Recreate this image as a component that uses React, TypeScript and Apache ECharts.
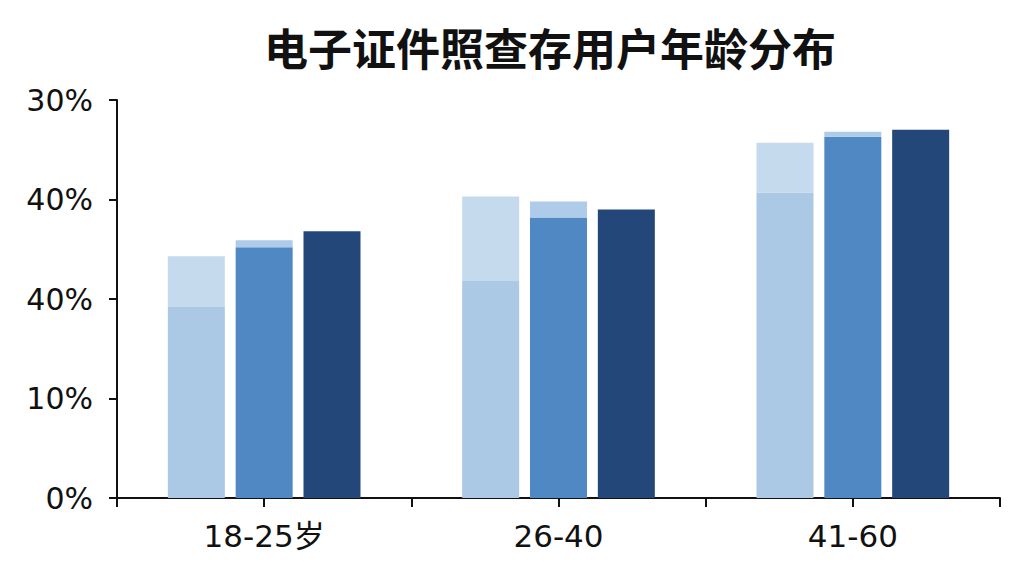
import * as echarts from "echarts"
import { useEffect, useRef } from "react"

const title = "电子证件照查存用户年龄分布"
const categories = ["18-25岁", "26-40", "41-60"]
// y tick labels as printed on the original (0, 10, 20, 30, 40 positions)
const yTickLabels = ["0%", "10%", "40%", "40%", "30%"]

// first bar in each group: lower part + paler upper part
const lightLower = [19.2, 21.8, 30.7]
const lightUpper = [5.1, 8.5, 5.0]
// second bar: main part + thin light cap
const midMain = [25.2, 28.2, 36.3]
const midCap = [0.7, 1.6, 0.5]
// third bar
const dark = [26.8, 29.0, 37.0]

const FONT = "'DejaVu Sans', 'Noto Sans CJK SC', sans-serif"
const INK = "#111111"

export default function App() {
  const ref = useRef<HTMLDivElement>(null)

  useEffect(() => {
    if (!ref.current) return
    const chart = echarts.init(ref.current, null, { renderer: "svg" })

    const bar = (name: string, data: number[], stack: string, color: string) => ({
      name,
      type: "bar",
      stack,
      data,
      barWidth: 57,
      barGap: "19%",
      itemStyle: { color },
    })

    chart.setOption({
      animation: false,
      backgroundColor: "#ffffff",
      title: {
        text: title,
        left: 545,
        top: 20,
        textAlign: "center",
        textStyle: { fontFamily: "'Noto Sans CJK SC', sans-serif", fontSize: 44, fontWeight: "bold", color: INK },
      },
      grid: { left: 117, right: 24, top: 100, bottom: 78 },
      xAxis: [
        {
          type: "category",
          data: categories,
          axisLine: { lineStyle: { color: INK, width: 2 } },
          axisTick: { show: true, alignWithLabel: true, length: 9, lineStyle: { color: INK, width: 2 } },
          axisLabel: { color: INK, fontSize: 31, fontFamily: FONT, margin: 22 },
        },
        {
          // second axis only to draw the ticks on the category boundaries
          type: "category",
          data: categories,
          position: "bottom",
          axisLine: { show: false },
          axisTick: { show: true, length: 9, lineStyle: { color: INK, width: 2 } },
          axisLabel: { show: false },
        },
      ],
      yAxis: {
        type: "value",
        min: 0,
        max: 40,
        interval: 10,
        splitLine: { show: false },
        axisLine: { show: true, lineStyle: { color: INK, width: 2 } },
        axisTick: { show: true, length: 8, lineStyle: { color: INK, width: 2 } },
        axisLabel: {
          color: INK,
          fontSize: 30,
          fontFamily: FONT,
          margin: 24,
          formatter: (v: number) => yTickLabels[Math.round(v / 10)] ?? "",
        },
      },
      series: [
        bar("a1", lightLower, "a", "#abc8e4"),
        bar("a2", lightUpper, "a", "#c6daee"),
        bar("b1", midMain, "b", "#4f88c3"),
        bar("b2", midCap, "b", "#aecbe9"),
        bar("c", dark, "c", "#24477a"),
      ],
    })

    return () => chart.dispose()
  }, [])

  return (
    <div
      ref={ref}
      style={{ position: "absolute", left: 0, top: 0, width: 1024, height: 576 }}
    />
  )
}
